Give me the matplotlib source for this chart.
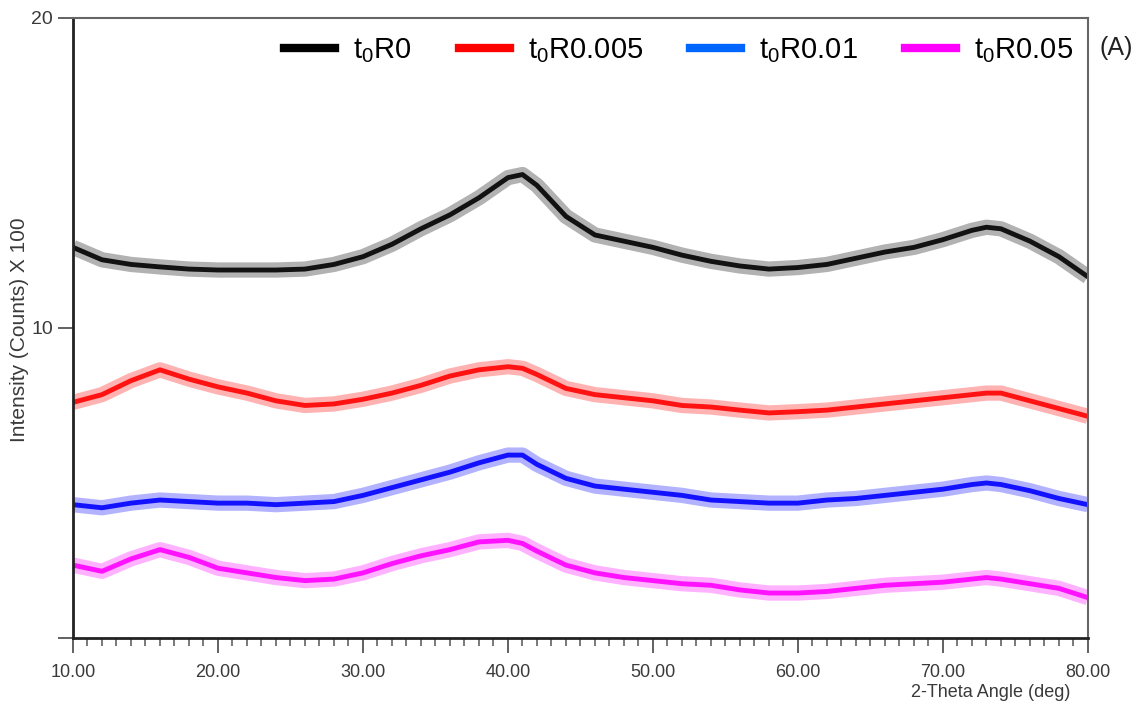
import matplotlib
matplotlib.use("Agg")
import matplotlib.pyplot as plt
from matplotlib.lines import Line2D
from matplotlib.ticker import MultipleLocator

plt.rcParams['font.family'] = ['Liberation Sans', 'DejaVu Sans']

angle = [10, 12, 14, 16, 18, 20, 22, 24, 26, 28, 30, 32, 34, 36, 38, 40, 41, 42,
         44, 46, 48, 50, 52, 54, 56, 58, 60, 62, 64, 66, 68, 70, 72, 73, 74, 76, 78, 80]

# intensity (counts x 100), estimated centre of each noisy trace
r0 = [12.6, 12.2, 12.05, 11.97, 11.9, 11.87, 11.87, 11.87, 11.9, 12.05, 12.3, 12.7,
      13.2, 13.65, 14.2, 14.85, 14.95, 14.6, 13.6, 13.0, 12.8, 12.6, 12.35, 12.15,
      12.0, 11.9, 11.95, 12.05, 12.25, 12.45, 12.6, 12.85, 13.15, 13.25, 13.2,
      12.8, 12.3, 11.65]
r0005 = [7.6, 7.85, 8.3, 8.65, 8.35, 8.1, 7.9, 7.65, 7.5, 7.55, 7.7, 7.9, 8.15, 8.45,
         8.65, 8.75, 8.7, 8.5, 8.05, 7.85, 7.75, 7.65, 7.5, 7.45, 7.35, 7.26, 7.3,
         7.35, 7.45, 7.55, 7.65, 7.75, 7.85, 7.9, 7.9, 7.65, 7.4, 7.15]
r001 = [4.3, 4.2, 4.35, 4.45, 4.4, 4.35, 4.35, 4.3, 4.35, 4.4, 4.6, 4.85, 5.1, 5.35,
        5.65, 5.9, 5.9, 5.6, 5.15, 4.9, 4.8, 4.7, 4.6, 4.45, 4.4, 4.35, 4.35, 4.45,
        4.5, 4.6, 4.7, 4.8, 4.95, 5.0, 4.95, 4.75, 4.5, 4.3]
r005 = [2.35, 2.15, 2.55, 2.85, 2.6, 2.25, 2.1, 1.95, 1.85, 1.9, 2.1, 2.4, 2.65, 2.85,
        3.1, 3.15, 3.05, 2.8, 2.35, 2.1, 1.95, 1.85, 1.75, 1.7, 1.55, 1.45, 1.45, 1.5,
        1.6, 1.7, 1.75, 1.8, 1.9, 1.95, 1.9, 1.75, 1.6, 1.3]

labels = [r'$\mathregular{t_0R0}$', r'$\mathregular{t_0R0.005}$',
          r'$\mathregular{t_0R0.01}$', r'$\mathregular{t_0R0.05}$']
trace_colors = ['black', '#ff0000', '#0000ff', '#ff00ff']
legend_colors = ['black', '#ff0000', '#0066ff', '#ff00ff']

fig = plt.figure(figsize=(11.44, 7.08), dpi=100)
ax = fig.add_axes([0.0638, 0.0989, 0.8872, 0.8757])

for y, c in zip([r0, r0005, r001, r005], trace_colors):
    # wide faint band + darker core to mimic the noisy scan
    ax.plot(angle, y, color=c, lw=11, alpha=0.3, solid_capstyle='butt')
    ax.plot(angle, y, color=c, lw=3.5, alpha=0.9)

ax.set_xlim(10, 80)
ax.set_ylim(0, 20)
ax.xaxis.set_major_locator(MultipleLocator(10))
ax.xaxis.set_minor_locator(MultipleLocator(1))
ax.set_yticks([0, 10, 20])
ax.set_yticklabels(['', '10', '20'])
ax.set_xticklabels([f'{v:.2f}' for v in ax.get_xticks()])

ax.tick_params(axis='both', which='major', length=11, width=1.3, color='#555555',
               labelsize=13, labelcolor='#3a3a3a')
ax.tick_params(axis='y', labelsize=14)
ax.tick_params(axis='x', which='minor', length=6, width=1.1, color='#555555')
ax.tick_params(axis='x', pad=8)

for side in ['left', 'bottom']:
    ax.spines[side].set_linewidth(2)
    ax.spines[side].set_color('#222222')
for side in ['top', 'right']:
    ax.spines[side].set_linewidth(1.5)
    ax.spines[side].set_color('#666666')

ax.set_ylabel('Intensity (Counts) X 100', fontsize=15, color='#3a3a3a')
ax.yaxis.set_label_coords(-0.043, 0.497)
ax.set_xlabel('2-Theta Angle (deg)', fontsize=13, color='#3a3a3a')
ax.xaxis.set_label_coords(0.904, -0.075)

handles = [Line2D([], [], color=c, lw=6) for c in legend_colors]
ax.legend(handles, labels, ncol=4, frameon=False, fontsize=21,
          loc='upper right', bbox_to_anchor=(1.011, 1.013),
          handlelength=1.75, handletextpad=0.6, columnspacing=1.63)

fig.text(0.961, 0.932, '(A)', fontsize=18, color='#222222', va='center')

fig.savefig('out.png', dpi=100)
